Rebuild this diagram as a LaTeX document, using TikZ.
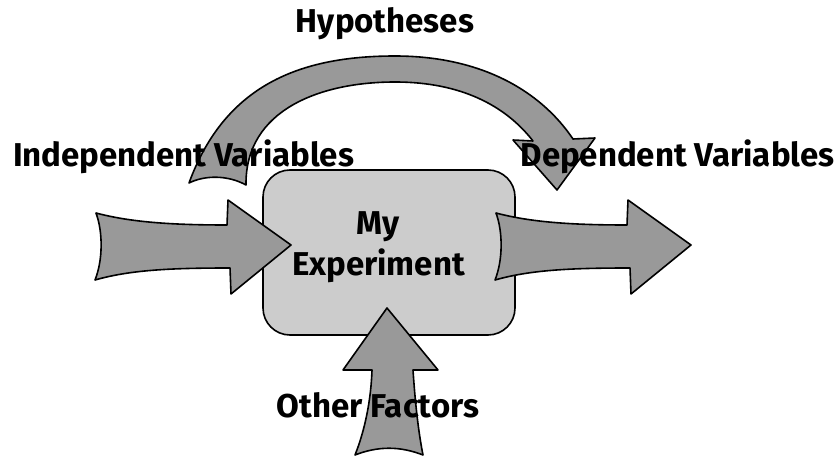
\documentclass[tikz,border=0pt]{standalone}
\usepackage{fontspec}
\setmainfont{Fira Sans}
\definecolor{arrowgray}{HTML}{999999}
\definecolor{boxgray}{HTML}{CCCCCC}
\tikzset{
  arrowshape/.style={draw=black, line width=1.6pt, fill=arrowgray, line join=round},
  expbox/.style={draw=black, line width=1.6pt, fill=boxgray, rounded corners=27pt,
                 minimum width=252pt, minimum height=165pt, inner sep=0pt},
  lbl/.style={font=\bfseries\fontsize{33}{38}\selectfont, inner sep=0pt, anchor=base}
}
\begin{document}
\begin{tikzpicture}[x=1pt,y=-1pt]
\useasboundingbox (0,0) rectangle (838,457);
% box
\node[expbox] (exp) at (389,252.5) {};
% left arrow
\draw[arrowshape] (96,213) .. controls (130,222) and (170,225) .. (227,225) -- (228,200) -- (291,245) -- (231,294) -- (230,268) .. controls (170,268) and (130,270) .. (95,280) .. controls (103,260) and (103,232) .. cycle;
% right arrow
\begin{scope}[xshift=400pt]
\draw[arrowshape] (96,213) .. controls (130,222) and (170,225) .. (227,225) -- (228,200) -- (291,245) -- (231,294) -- (230,268) .. controls (170,268) and (130,270) .. (95,280) .. controls (103,260) and (103,232) .. cycle;
\end{scope}
% bottom arrow
\draw[arrowshape] (387,308) -- (438,370) -- (413,370) .. controls (415,400) and (418,430) .. (423,455) .. controls (400,446) and (378,446) .. (355,455) .. controls (365,430) and (371,400) .. (372,370) -- (343,370) -- cycle;
% curved arrow
\draw[arrowshape] (189,183) .. controls (225,85) and (300,56) .. (395,56) .. controls (480,56) and (540,90) .. (573,139) -- (595,138) -- (557,190) -- (513,140) -- (533,141) .. controls (505,105) and (460,82) .. (395,82) .. controls (320,82) and (245,110) .. (246,185) .. controls (228,175) and (205,175) .. cycle;
% labels
\node[lbl] (hyp) at (385,33) {Hypotheses};
\node[lbl] (iv) at (183.5,167) {Independent Variables};
\node[lbl] (dv) at (677.5,167) {Dependent Variables};
\node[lbl] (my) at (378,235) {My};
\node[lbl] (expt) at (378.5,275) {Experiment};
\node[lbl] (of) at (378,417) {Other Factors};
\end{tikzpicture}
\end{document}
